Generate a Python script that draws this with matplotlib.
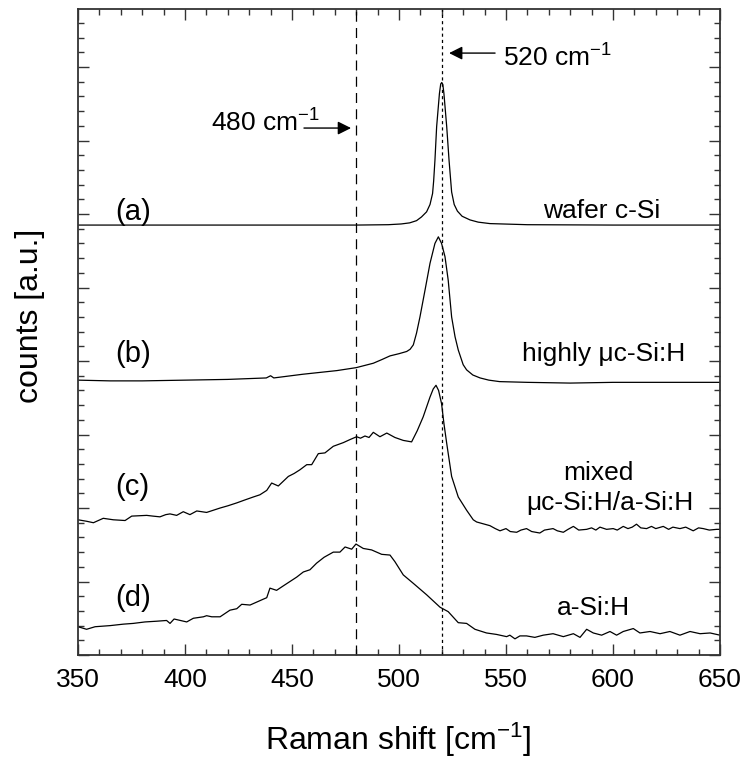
import matplotlib
matplotlib.use("Agg")
import matplotlib.pyplot as plt
from matplotlib.ticker import MultipleLocator, NullFormatter

plt.rcParams['font.family'] = ['Liberation Sans', 'DejaVu Sans']
plt.rcParams['mathtext.default'] = 'regular'

# ---- data ----
xa = [350, 400, 450, 480, 495, 501, 505, 508.2, 510.5, 512.9, 514.5, 515.7, 516.2, 516.8,
      517.6, 518.9, 519.5, 520.0, 520.5, 521.0, 522.3, 523.4, 524.6, 525.8, 527.3, 529.5,
      533.2, 537, 542.5, 560, 600, 650]
ya = [5.85, 5.85, 5.85, 5.85, 5.855, 5.865, 5.88, 5.91, 5.96, 6.03, 6.13, 6.28, 6.45, 6.73,
      7.19, 7.64, 7.77, 7.79, 7.76, 7.64, 7.19, 6.73, 6.30, 6.13, 6.04, 5.97,
      5.92, 5.89, 5.87, 5.855, 5.85, 5.85]

xb = [350, 365, 380, 400, 420, 438, 440, 441.5, 455, 471, 480, 488, 492, 495.8, 500,
      503.6, 505.2, 506.7, 508.2, 509.8, 512.2, 514.5, 516.8, 518.4, 519.9, 521.5, 523,
      524.6, 526.2, 527.7, 530, 531.6, 534.5, 537.9, 542, 547, 560, 580, 600, 620, 650]
yb = [3.74, 3.73, 3.73, 3.74, 3.75, 3.77, 3.80, 3.77, 3.82, 3.87, 3.91, 3.97, 4.02, 4.07, 4.10,
      4.13, 4.16, 4.22, 4.38, 4.60, 4.97, 5.33, 5.60, 5.69, 5.60, 5.42, 5.10,
      4.60, 4.33, 4.15, 3.95, 3.88, 3.81, 3.77, 3.74, 3.72, 3.71, 3.70, 3.71, 3.71, 3.71]

xc = [350, 354, 357.2, 361.8, 366.5, 372, 375.1, 382.1, 385, 388.3, 391, 393, 396.1, 399.2,
      402.3, 405.5, 410.1, 416.4, 420, 424.2, 428, 431.9, 435, 438.2, 440.5, 443.6, 448.3,
      451, 453.7, 456.9, 459.2, 462.3, 465.4, 469.3, 474, 477, 480.2, 482, 484.1, 486, 488,
      491.1, 494.3, 498.1, 502, 505.9, 508.5, 511.3, 514.5, 516, 517.3, 518.5, 519.9, 521,
      522.3, 524.6, 527.7, 531.6, 534.7, 536.3, 542.5, 545, 547.2, 550, 552, 555, 557, 559.6,
      562, 565.8, 568, 572, 574, 576.8, 579, 581.5, 584, 587.7, 590, 592, 593.9, 597, 600.1,
      602, 604.8, 607, 609, 611, 613, 615.7, 618, 620, 623.5, 626, 628, 631.3, 634, 637.5,
      640, 642.2, 645, 648.5, 650]
yc = [1.84, 1.82, 1.80, 1.86, 1.84, 1.83, 1.89, 1.90, 1.89, 1.88, 1.91, 1.92, 1.90, 1.95,
      1.91, 1.96, 1.94, 2.00, 2.03, 2.07, 2.11, 2.15, 2.18, 2.24, 2.34, 2.30, 2.43,
      2.47, 2.52, 2.59, 2.59, 2.74, 2.75, 2.84, 2.89, 2.93, 2.97, 2.95, 2.98, 2.96, 3.03,
      2.97, 3.02, 2.96, 2.92, 2.90, 3.05, 3.24, 3.51, 3.62, 3.67, 3.60, 3.42, 3.15,
      2.88, 2.43, 2.15, 1.97, 1.84, 1.81, 1.76, 1.72, 1.69, 1.72, 1.68, 1.67, 1.70, 1.72,
      1.68, 1.66, 1.70, 1.72, 1.69, 1.67, 1.71, 1.75, 1.70, 1.71, 1.73, 1.70, 1.74, 1.71, 1.72,
      1.70, 1.75, 1.72, 1.74, 1.78, 1.73, 1.72, 1.75, 1.72, 1.75, 1.71, 1.74, 1.72, 1.74, 1.69,
      1.73, 1.72, 1.70, 1.71, 1.71]

xd = [350, 354, 358, 365, 371.2, 375.8, 381.3, 386.8, 391.4, 393, 394.9, 400.8, 403.9, 408.6,
      410.1, 412.5, 416.4, 421, 424.2, 426.5, 430.4, 436.6, 438.2, 439.7, 442.8, 445.9, 452.2,
      455.3, 458.4, 461.5, 465, 469.3, 472.4, 474.8, 477.9, 479.9, 483.3, 487.2, 491.9, 495.8,
      498.1, 502, 506.7, 512.9, 519.2, 523, 527.7, 531.6, 535.5, 540.9, 545.6, 550.3, 551.8,
      554.2, 556.5, 559.6, 563.5, 567.4, 572, 576.8, 581.5, 584.6, 587.7, 590.8, 594.7, 598.6,
      601.7, 604.8, 609.5, 612.6, 617.3, 622, 626.6, 631.3, 636, 640.7, 645.4, 650]
yd = [0.385, 0.35, 0.385, 0.40, 0.42, 0.43, 0.45, 0.46, 0.47, 0.43, 0.49, 0.45, 0.50, 0.52,
      0.535, 0.52, 0.52, 0.61, 0.63, 0.69, 0.68, 0.76, 0.78, 0.91, 0.88, 0.94, 1.06,
      1.13, 1.16, 1.25, 1.33, 1.40, 1.40, 1.47, 1.44, 1.51, 1.45, 1.43, 1.37, 1.36,
      1.27, 1.09, 0.975, 0.82, 0.65, 0.59, 0.44, 0.43, 0.35, 0.30, 0.28, 0.25, 0.27,
      0.22, 0.26, 0.26, 0.24, 0.27, 0.29, 0.25, 0.29, 0.24, 0.35, 0.30, 0.27, 0.32,
      0.27, 0.32, 0.36, 0.30, 0.32, 0.29, 0.32, 0.27, 0.32, 0.29, 0.30, 0.27]

curve_labels = ['(a)', '(b)', '(c)', '(d)']
curve_label_y = [6.03, 4.09, 2.29, 0.78]
sample_names = ['wafer c-Si', 'highly μc-Si:H', 'mixed', 'μc-Si:H/a-Si:H', 'a-Si:H']
sample_pos = [(594.9, 6.04), (595.8, 4.10), (593.0, 2.47), (598.5, 2.07), (590.9, 0.646)]
ref_lines = [480, 520]

# ---- figure ----
fig = plt.figure(figsize=(7.45, 7.62), dpi=100)
ax = fig.add_axes([0.1047, 0.1404, 0.8617, 0.8478])

for xs, ys in [(xa, ya), (xb, yb), (xc, yc), (xd, yd)]:
    ax.plot(xs, ys, color='black', lw=0.9)

ax.axvline(ref_lines[0], color='black', lw=0.9, dashes=(8, 5))
ax.axvline(ref_lines[1], color='black', lw=0.9, dashes=(2.5, 2.5))

ax.set_xlim(350, 650)
ax.set_ylim(0, 8.79)
ax.xaxis.set_major_locator(MultipleLocator(50))
ax.xaxis.set_minor_locator(MultipleLocator(10))
ax.yaxis.set_major_locator(MultipleLocator(1))
ax.yaxis.set_minor_locator(MultipleLocator(0.2))
ax.yaxis.set_major_formatter(NullFormatter())
ax.tick_params(which='both', direction='in', top=True, right=True, width=1.0, color='#333333')
ax.tick_params(which='major', length=8, labelsize=19, pad=9)
ax.tick_params(which='minor', length=4)
for s in ax.spines.values():
    s.set_linewidth(1.3)
    s.set_color('#333333')

for lab, yy in zip(curve_labels, curve_label_y):
    ax.text(367.3, yy, lab, fontsize=21, ha='left', va='center')
for name, (xx, yy) in zip(sample_names, sample_pos):
    ax.text(xx, yy, name, fontsize=19, ha='center', va='center')

ax.annotate('', xy=(477.6, 7.17), xytext=(455.6, 7.17),
            arrowprops=dict(arrowstyle='-|>', mutation_scale=20, lw=1.0, color='black',
                            shrinkA=0, shrinkB=0))
ax.text(412.2, 7.12, '480 cm$^{-1}$', fontsize=19, ha='left', va='baseline')
ax.annotate('', xy=(523.4, 8.19), xytext=(544.9, 8.19),
            arrowprops=dict(arrowstyle='-|>', mutation_scale=20, lw=1.0, color='black',
                            shrinkA=0, shrinkB=0))
ax.text(548.6, 8.0, '520 cm$^{-1}$', fontsize=19, ha='left', va='baseline')

fig.text(398 / 745, 1 - 740 / 762, 'Raman shift [cm$^{-1}$]', fontsize=23, ha='center', va='center')
fig.text(30 / 745, 1 - 316 / 762, 'counts [a.u.]', fontsize=23, ha='center', va='center',
         rotation=90)

fig.savefig('out.png', dpi=100)
